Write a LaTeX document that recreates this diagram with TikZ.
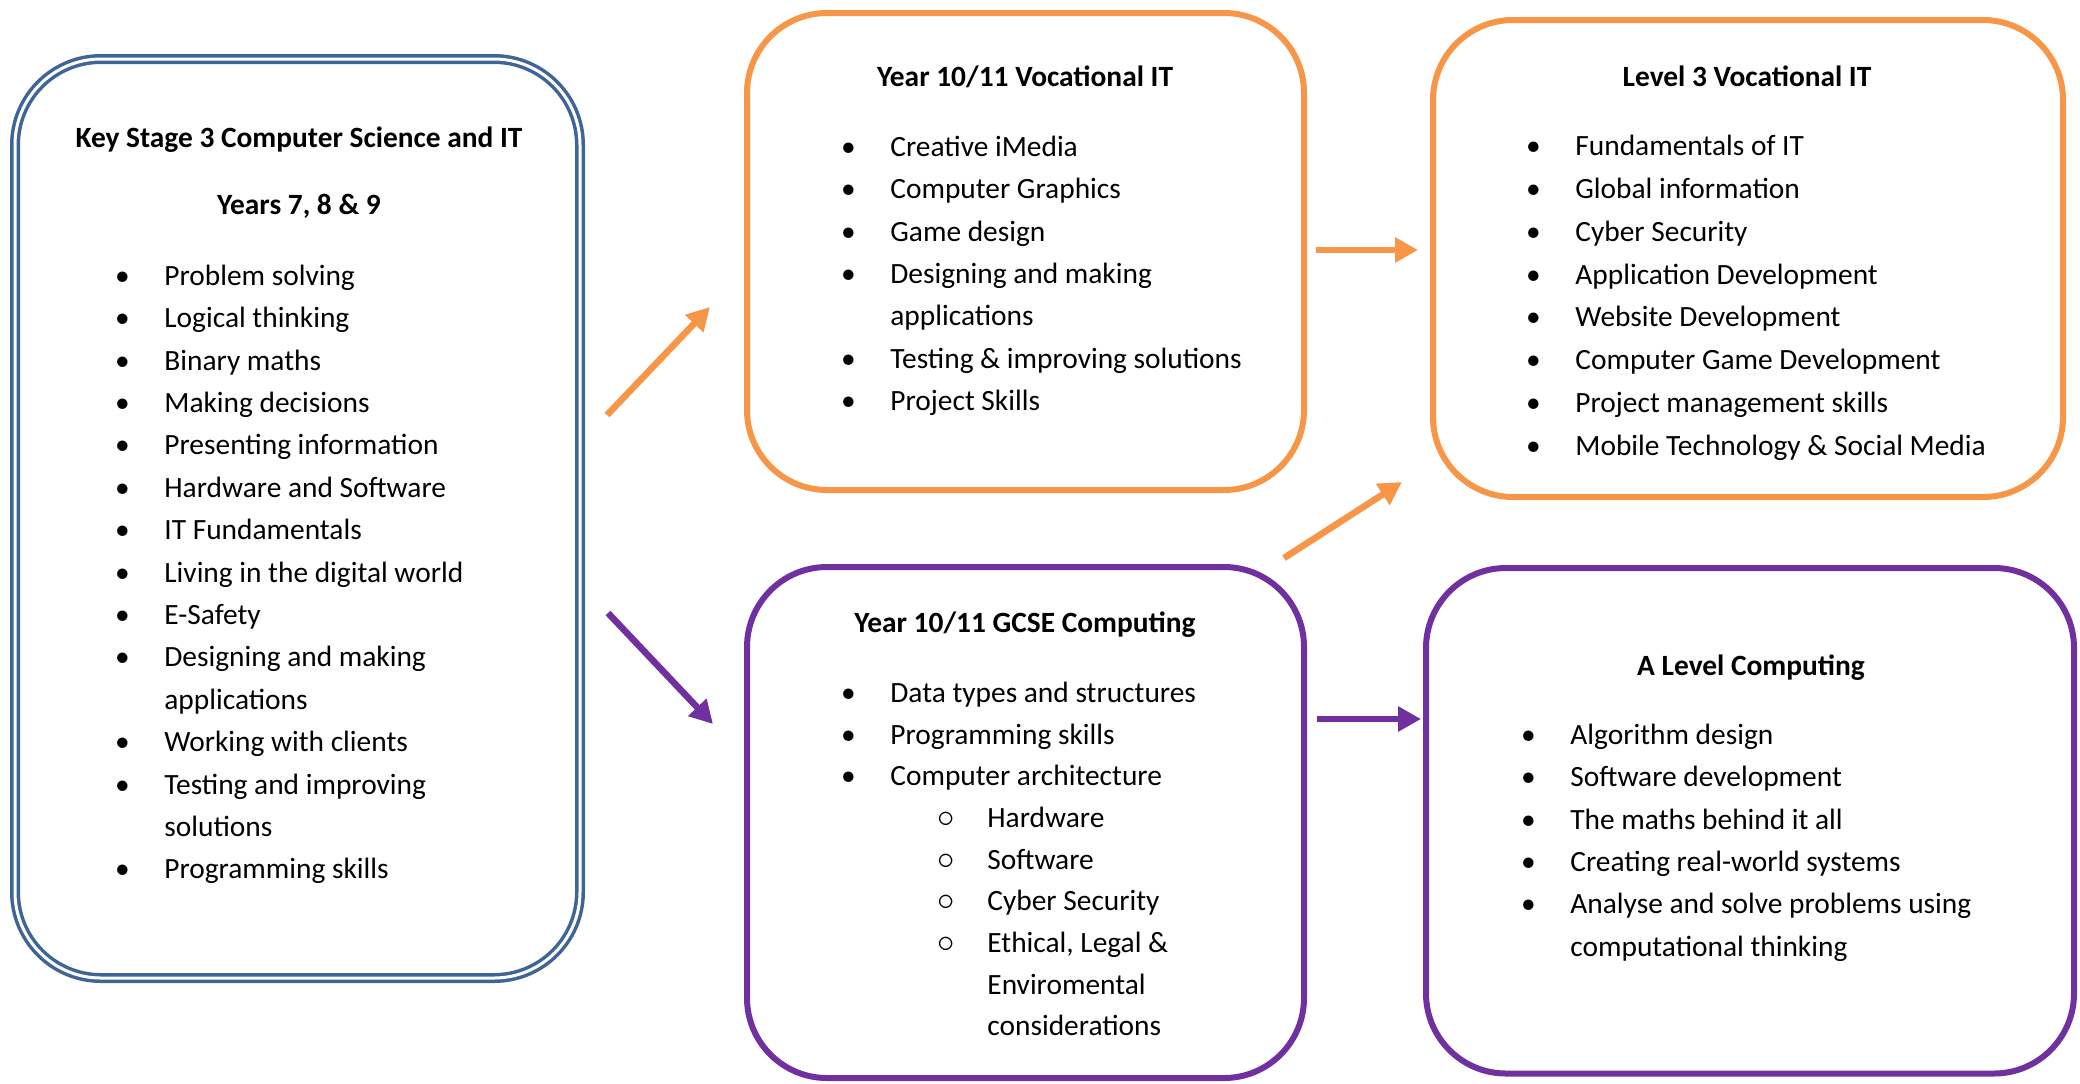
\documentclass[tikz,border=0pt]{standalone}
\usepackage{fontspec}
\setmainfont{Carlito}
\usetikzlibrary{arrows.meta, positioning}

\definecolor{ksblue}{HTML}{3F6597}
\definecolor{vocorange}{HTML}{F79646}
\definecolor{gcsepurple}{HTML}{7030A0}

\newcommand{\bul}{\makebox[0pt]{\textbullet}\hspace*{21pt}}
\newcommand{\cont}{\hspace*{21pt}}
\newcommand{\subbul}{\hspace*{49pt}\makebox[0pt]{\fontsize{17}{17}\selectfont$\circ$}\hspace*{20.5pt}}
\newcommand{\subcont}{\hspace*{69.5pt}}

\begin{document}
\begin{tikzpicture}[
    x=0.5pt, y=-0.5pt,
    box/.style={draw, rounded corners=40pt, line width=3pt,
                inner sep=0pt, outer sep=0pt},
    heading/.style={font=\fontsize{14.7}{21.2}\selectfont\bfseries,
                    anchor=base, inner sep=0pt},
    items/.style={font=\fontsize{14.7}{21.2}\selectfont, align=left,
                  anchor=north west, inner sep=0pt},
    link/.style={line width=3.3pt, -{Triangle[length=11.5pt, width=12pt]}}
  ]
  \useasboundingbox (0,0) rectangle (2080,1083);

  \node[draw=ksblue, double=white, double distance=1.5pt, line width=1.75pt,
        rounded corners=43pt, inner sep=0pt,
        minimum width=282.5pt, minimum height=459.5pt] (ks3) at (297.5,518.5) {};
  \node[box, draw=vocorange, minimum width=278.5pt, minimum height=238.5pt]
    (voc) at (1025.5,251.5) {};
  \node[box, draw=vocorange, minimum width=315pt, minimum height=238.5pt]
    (lvl3) at (1748,258.5) {};
  \node[box, draw=gcsepurple, minimum width=278.5pt, minimum height=255.5pt]
    (gcse) at (1025.5,822.5) {};
  \node[box, draw=gcsepurple, minimum width=324pt, minimum height=252.75pt]
    (alevel) at (1750,820.75) {};

  \node[heading] (ks3title) at (299,147) {Key Stage 3 Computer Science and IT};
  \node[heading] (ks3years) at (299,214) {Years 7, 8 \& 9};
  \node[items] (ks3list) at (122,264.5) {\bul Problem solving\\
    \bul Logical thinking\\ \bul Binary maths\\ \bul Making decisions\\
    \bul Presenting information\\ \bul Hardware and Software\\
    \bul IT Fundamentals\\ \bul Living in the digital world\\
    \bul E-Safety\\ \bul Designing and making\\ \cont applications\\
    \bul Working with clients\\ \bul Testing and improving\\
    \cont solutions\\ \bul Programming skills};

  \node[heading] (voctitle) at (1025,86) {Year 10/11 Vocational IT};
  \node[items] (voclist) at (848,135.5) {\bul Creative iMedia\\
    \bul Computer Graphics\\ \bul Game design\\
    \bul Designing and making\\ \cont applications\\
    \bul Testing \& improving solutions\\ \bul Project Skills};

  \node[heading] (lvl3title) at (1747,86) {Level 3 Vocational IT};
  \node[items, font=\fontsize{14.7}{21.45}\selectfont] (lvl3list) at (1533,134.5)
    {\bul Fundamentals of IT\\
    \bul Global information\\ \bul Cyber Security\\
    \bul Application Development\\ \bul Website Development\\
    \bul Computer Game Development\\ \bul Project management skills\\
    \bul Mobile Technology \& Social Media};

  \node[heading] (gcsetitle) at (1025,632) {Year 10/11 GCSE Computing};
  \node[items, font=\fontsize{14.7}{20.85}\selectfont] (gcselist) at (848,681.5)
    {\bul Data types and structures\\
    \bul Programming skills\\ \bul Computer architecture\\
    \subbul Hardware\\ \subbul Software\\ \subbul Cyber Security\\
    \subbul Ethical, Legal \&\\ \subcont Enviromental\\
    \subcont considerations};

  \node[heading] (aleveltitle) at (1751,675) {A Level Computing};
  \node[items] (alevellist) at (1528,723.5) {\bul Algorithm design\\
    \bul Software development\\ \bul The maths behind it all\\
    \bul Creating real-world systems\\
    \bul Analyse and solve problems using\\ \cont computational thinking};

  \coordinate (ks3up)   at (607,415);
  \coordinate (vocin)   at (710,307);
  \coordinate (ks3down) at (608,613);
  \coordinate (gcsein)  at (713,724);
  \coordinate (vocout)  at (1316,250);
  \coordinate (lvl3in)  at (1418,250);
  \coordinate (gcseup)  at (1284,558);
  \coordinate (lvl3low) at (1402,482);
  \coordinate (gcseout) at (1317,719);
  \coordinate (alevelin) at (1421,719);

  \draw[link, vocorange] (ks3up) -- (vocin);
  \draw[link, gcsepurple] (ks3down) -- (gcsein);
  \draw[link, vocorange] (vocout) -- (lvl3in);
  \draw[link, vocorange] (gcseup) -- (lvl3low);
  \draw[link, gcsepurple] (gcseout) -- (alevelin);
\end{tikzpicture}
\end{document}
